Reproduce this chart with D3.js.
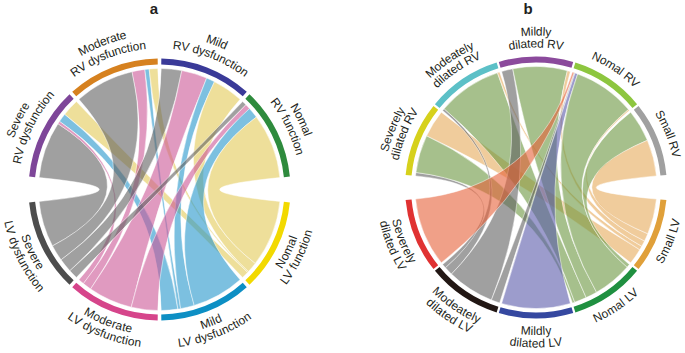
<!DOCTYPE html>
<html>
<head>
<meta charset="utf-8">
<script src="https://cdn.jsdelivr.net/npm/d3@7"></script>
<style>
body { margin: 0; background: #fff; }
text { font-family: "Liberation Sans", Arial, sans-serif; fill: #231f20; }
</style>
</head>
<body>
<div id="chart"></div>
<script>
// ---- panel a : RV function vs LV function ----
const rvNamesA = [["Severe", "RV dysfunction"], ["Moderate", "RV dysfunction"], ["Mild", "RV dysfunction"], ["Nomal", "RV function"]]
const lvNamesA = [["Severe", "LV dysfunction"], ["Moderate", "LV dysfunction"], ["Mild", "LV dysfunction"], ["Nomal", "LV function"]]
// rows = RV category, columns = LV category (patients)
const countsA = [
  [40, 2, 6, 12],
  [14, 3, 1, 2],
  [12, 15, 5, 18],
  [8, 9, 19, 114]
]

// ---- panel b : RV size vs LV size ----
const rvNamesB = [["Severely", "dilated RV"], ["Modeately", "dilated RV"], ["Mildly", "dilated RV"], ["Nomal RV"], ["Small RV"]]
const lvNamesB = [["Severely", "dilated LV"], ["Modeately", "dilated LV"], ["Mildly", "dilated LV"], ["Nomal LV"], ["Small LV"]]
const countsB = [
  [0, 1, 0, 11, 8],
  [0, 2, 0, 56, 2],
  [0, 11, 0, 53, 3],
  [6, 2, 8, 180, 4],
  [0, 0, 0, 16, 18]
]

// colours
const rvColA = ["#7e4699", "#d6811f", "#3a3a98", "#2e8b3d"]
const lvColA = ["#4d4d4d", "#d6458b", "#0d8fc4", "#f2d900"]
const linkColA = ["#616161", "#cb5796", "#2596cb", "#e3ca57"]

const rvColB = ["#d6d11c", "#5cc0c7", "#8b4a9c", "#8dc63f", "#a0a0a0"]
const lvColB = ["#e03232", "#221714", "#3548a0", "#1f9040", "#e0a03a"]
const linkColB = ["#e66139", "#616161", "#5a5aaa", "#6b963f", "#e6aa5a"]

const width = 685, height = 353
const rad = Math.PI / 180

const svg = d3.select("#chart")
  .append("svg")
    .attr("width", width)
    .attr("height", height)

// every sector gets the same width, links are fractions of their sector
function layout(nRv, nLv, gap, bigGap) {
  const n = nRv + nLv
  const w = (360 - 2 * bigGap - (n - 2) * gap) / n
  let a = 90 + bigGap / 2
  const lv = [], rv = []
  for (let j = nLv - 1; j >= 0; j--) {
    lv[j] = [a, a + w]
    a += w + (j == 0 ? bigGap : gap)
  }
  for (let i = 0; i < nRv; i++) {
    rv[i] = [a, a + w]
    a += w + gap
  }
  return {w: w, rv: rv, lv: lv}
}

function mid(s) { return (s[0] + s[1]) / 2 }
function turn(a) { return ((a % 360) + 360) % 360 }

function chordPanel(id, cx, cy, rvNames, lvNames, counts, rvCol, lvCol, linkCol, gap, bigGap, labelR) {
  const L = layout(rvNames.length, lvNames.length, gap, bigGap)
  const rowSum = counts.map(r => d3.sum(r))
  const colSum = lvNames.map((d, j) => d3.sum(counts, r => r[j]))

  // link ends on the RV side
  const rvEnd = {}
  rvNames.forEach((d, i) => {
    let a = L.rv[i][0]
    d3.range(lvNames.length)
      .filter(j => counts[i][j] > 0)
      .sort((p, q) => turn(mid(L.lv[q]) - mid(L.rv[i])) - turn(mid(L.lv[p]) - mid(L.rv[i])))
      .forEach(j => {
        const da = counts[i][j] / rowSum[i] * L.w
        rvEnd[i + "-" + j] = [a, a + da]
        a += da
      })
  })
  // link ends on the LV side
  const lvEnd = {}
  lvNames.forEach((d, j) => {
    let a = L.lv[j][0]
    d3.range(rvNames.length)
      .filter(i => counts[i][j] > 0)
      .sort((p, q) => turn(mid(L.rv[q]) - mid(L.lv[j])) - turn(mid(L.rv[p]) - mid(L.lv[j])))
      .forEach(i => {
        const da = counts[i][j] / colSum[j] * L.w
        lvEnd[i + "-" + j] = [a, a + da]
        a += da
      })
  })

  const links = []
  counts.forEach((r, i) => r.forEach((v, j) => {
    if (v > 0) {
      const s = rvEnd[i + "-" + j], t = lvEnd[i + "-" + j]
      links.push({
        lv: j,
        source: {startAngle: s[0] * rad, endAngle: s[1] * rad},
        target: {startAngle: t[0] * rad, endAngle: t[1] * rad}
      })
    }
  }))

  const g = svg.append("g")
    .attr("transform", "translate(" + cx + "," + cy + ")")

  const ribbon = d3.ribbon().radius(121)
  g.selectAll(".link")
    .data(links)
    .enter()
    .append("path")
      .attr("class", "link")
      .attr("d", ribbon)
      .attr("fill", d => linkCol[d.lv])
      .attr("fill-opacity", 0.6)
      .attr("stroke", "#fff")
      .attr("stroke-width", 0.6)
      .attr("stroke-opacity", 0.8)

  const sectors = rvNames.map((d, i) => ({lines: d, a: L.rv[i], col: rvCol[i]}))
    .concat(lvNames.map((d, j) => ({lines: d, a: L.lv[j], col: lvCol[j]})))

  const arc = d3.arc().innerRadius(125).outerRadius(131)
  g.selectAll(".track")
    .data(sectors)
    .enter()
    .append("path")
      .attr("class", "track")
      .attr("d", d => arc({startAngle: d.a[0] * rad, endAngle: d.a[1] * rad}))
      .attr("fill", d => d.col)

  // labels bent along the circle
  sectors.forEach((d, k) => {
    const m = mid(d.a)
    const top = Math.cos(m * rad) >= 0
    const rr = top ? labelR.top : labelR.bottom
    d.lines.forEach((line, n) => {
      let r
      if (d.lines.length == 1) r = (rr[0] + labelR.top[0]) / 2
      else if (top) r = n == 0 ? rr[1] : rr[0]
      else r = n == 0 ? rr[0] : rr[1]
      const a0 = (top ? m - 85 : m + 85) * rad
      const a1 = (top ? m + 85 : m - 85) * rad
      const pid = id + "-p" + k + "-" + n
      g.append("path")
        .attr("id", pid)
        .attr("fill", "none")
        .attr("d", "M" + (r * Math.sin(a0)) + "," + (-r * Math.cos(a0)) +
          "A" + r + "," + r + " 0 0 " + (top ? 1 : 0) + " " + (r * Math.sin(a1)) + "," + (-r * Math.cos(a1)))
      g.append("text")
        .style("font-size", "12px")
        .attr("dominant-baseline", "central")
        .append("textPath")
          .attr("href", "#" + pid)
          .attr("startOffset", "50%")
          .attr("text-anchor", "middle")
          .text(line)
    })
  })
}

chordPanel("a", 159.5, 189.5, rvNamesA, lvNamesA, countsA, rvColA, lvColA, linkColA, 1.6, 11.3,
  {top: [145, 158.5], bottom: [142, 154.5]})
chordPanel("b", 536, 187.5, rvNamesB, lvNamesB, countsB, rvColB, lvColB, linkColB, 1.0, 11,
  {top: [144, 156], bottom: [143.5, 156]})

svg.append("text")
  .attr("x", 154).attr("y", 14)
  .attr("text-anchor", "middle")
  .style("font-size", "15px").style("font-weight", "bold")
  .text("a")
svg.append("text")
  .attr("x", 528).attr("y", 14)
  .attr("text-anchor", "middle")
  .style("font-size", "15px").style("font-weight", "bold")
  .text("b")
</script>
</body>
</html>
